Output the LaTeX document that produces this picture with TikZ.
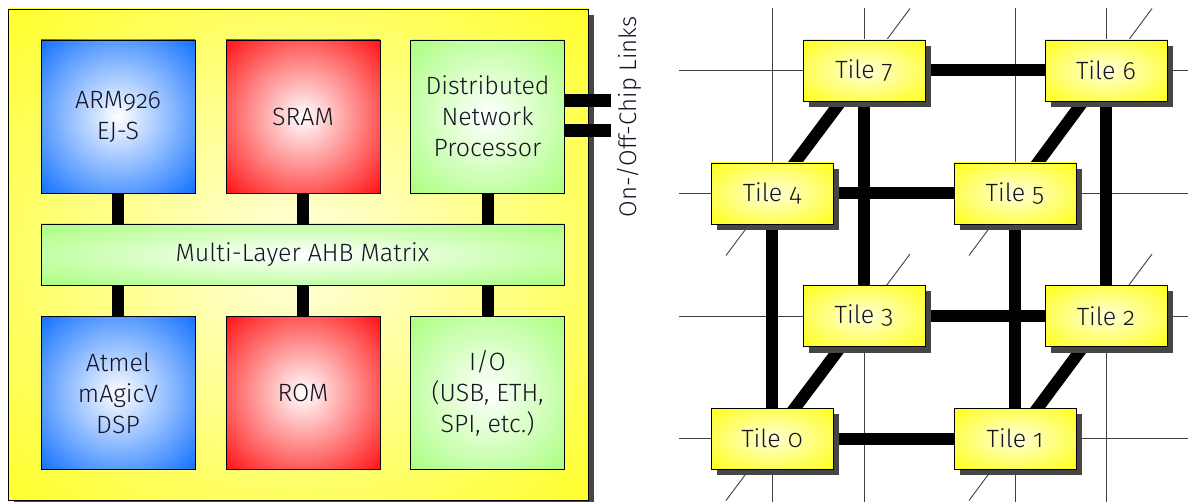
\documentclass[tikz,border=0pt]{standalone}
\usepackage{fontspec}
\setmainfont{Fira Sans Light}[Numbers=OldStyle]
\usetikzlibrary{shadows}
\definecolor{ablue}{RGB}{0,102,255}
\definecolor{ared}{RGB}{255,0,0}
\definecolor{agreen}{RGB}{153,255,102}
\definecolor{ayellow}{RGB}{255,255,0}
\definecolor{txt}{RGB}{20,20,35}
\definecolor{shad}{RGB}{70,70,70}
\pgfdeclareradialshading{glowblue}{\pgfpoint{0bp}{0bp}}{color(0bp)=(white); color(38bp)=(ablue); color(50bp)=(ablue)}
\pgfdeclareradialshading{glowred}{\pgfpoint{0bp}{0bp}}{color(0bp)=(white); color(38bp)=(ared); color(50bp)=(ared)}
\pgfdeclareradialshading{glowgreen}{\pgfpoint{0bp}{0bp}}{color(0bp)=(white); color(42bp)=(agreen); color(50bp)=(agreen)}
\pgfdeclareradialshading{glowchip}{\pgfpoint{0bp}{0bp}}{color(0bp)=(ayellow!12!white); color(44bp)=(ayellow); color(50bp)=(ayellow)}
\pgfdeclareradialshading{glowtile}{\pgfpoint{0bp}{0bp}}{color(0bp)=(ayellow!15!white); color(40bp)=(ayellow); color(50bp)=(ayellow)}
\pgfdeclarelayer{bg}
\pgfsetlayers{bg,main}
\begin{document}
\begin{tikzpicture}[x=1pt,y=-1pt,
  lbl/.style={text=txt, font=\fontsize{25}{31}\selectfont},
  blk/.style={lbl, draw=black, line width=0.9pt, minimum width=154pt, minimum height=153pt, inner sep=0pt, align=center},
  blueblk/.style={blk, shading=glowblue},
  redblk/.style={blk, shading=glowred},
  greenblk/.style={blk, shading=glowgreen},
  chipbox/.style={draw=black, line width=0.9pt, shading=glowchip, minimum width=580pt, minimum height=491pt, inner sep=0pt,
    drop shadow={shadow xshift=6pt, shadow yshift=-6pt, fill=shad, opacity=1}},
  tilebox/.style={lbl, draw=black, line width=0.9pt, shading=glowtile, minimum width=122pt, minimum height=61pt, inner sep=0pt,
    drop shadow={shadow xshift=6pt, shadow yshift=-6pt, fill=shad, opacity=1}},
  bus/.style={draw=black, line width=12pt},
  gridline/.style={draw=black!75, line width=0.9pt}
]
\useasboundingbox (0,0) rectangle (1188,502);
% ---------- left: chip ----------
\node[chipbox] (chip) at (298,254.5) {};
\node[blueblk]  (arm)  at (118,116.5) {ARM926\\EJ-S};
\node[redblk]   (sram) at (303,116.5) {SRAM};
\node[greenblk] (dnp)  at (487.5,116.5) {Distributed\\Network\\Processor};
\node[blk, shading=glowgreen, minimum width=523pt, minimum height=61pt] (ahb) at (302.5,254.5) {Multi-Layer AHB Matrix};
\node[blueblk]  (dsp)  at (118,393) {Atmel\\mAgicV\\DSP};
\node[redblk]   (rom)  at (303,393) {ROM};
\node[greenblk] (io)   at (487.5,393) {I/O\\(USB, ETH,\\SPI, etc.)};
\draw[bus] (arm.south) -- (arm.south |- ahb.north);
\draw[bus] (sram.south) -- (sram.south |- ahb.north);
\draw[bus] (dnp.south) -- (dnp.south |- ahb.north);
\draw[bus] (dsp.north |- ahb.south) -- (dsp.north);
\draw[bus] (rom.north |- ahb.south) -- (rom.north);
\draw[bus] (io.north |- ahb.south) -- (io.north);
\coordinate (lk1) at (611,100.5);
\coordinate (lk2) at (611,131);
\draw[bus, line width=13pt] (dnp.east |- lk1) -- (lk1);
\draw[bus, line width=13pt] (dnp.east |- lk2) -- (lk2);
\node[text=txt, font=\fontsize{24}{30}\selectfont, rotate=90] (links) at (629,117) {On-/Off-Chip Links};
% ---------- right: tiles ----------
\node[tilebox] (t7) at (864,70.5)  {Tile 7};
\node[tilebox] (t6) at (1106,70.5) {Tile 6};
\node[tilebox] (t4) at (772,193.5) {Tile 4};
\node[tilebox] (t5) at (1015,193.5){Tile 5};
\node[tilebox] (t3) at (864,316)   {Tile 3};
\node[tilebox] (t2) at (1106,316)  {Tile 2};
\node[tilebox] (t0) at (772,438.5) {Tile 0};
\node[tilebox] (t1) at (1015,438.5){Tile 1};
\foreach \yy [count=\i] in {70.5,193.5,316,438.5} {
  \coordinate (gw\i) at (679,\yy);
  \coordinate (ge\i) at (1188,\yy);
}
\foreach \xx [count=\i] in {772,864,1015,1106} {
  \coordinate (gn\i) at (\xx,8);
  \coordinate (gs\i) at (\xx,502);
}
\begin{pgfonlayer}{bg}
  \foreach \i in {1,...,4} {
    \draw[gridline] (gw\i) -- (ge\i);
    \draw[gridline] (gn\i) -- (gs\i);
  }
  \draw[gridline] ([shift={(-46,62)}]t4.center) -- ([shift={(46,-62)}]t7.center);
  \draw[gridline] ([shift={(-46,62)}]t5.center) -- ([shift={(46,-62)}]t6.center);
  \draw[gridline] ([shift={(-46,62)}]t0.center) -- ([shift={(46,-62)}]t3.center);
  \draw[gridline] ([shift={(-46,62)}]t1.center) -- ([shift={(46,-62)}]t2.center);
  \draw[bus] (t7.center) -- (t6.center);
  \draw[bus] (t4.center) -- (t5.center);
  \draw[bus] (t3.center) -- (t2.center);
  \draw[bus] (t0.center) -- (t1.center);
  \draw[bus] (t7.center) -- (t3.center);
  \draw[bus] (t6.center) -- (t2.center);
  \draw[bus] (t4.center) -- (t0.center);
  \draw[bus] (t5.center) -- (t1.center);
  \draw[bus] (t4.center) -- (t7.center);
  \draw[bus] (t5.center) -- (t6.center);
  \draw[bus] (t0.center) -- (t3.center);
  \draw[bus] (t1.center) -- (t2.center);
\end{pgfonlayer}
\end{tikzpicture}
\end{document}
